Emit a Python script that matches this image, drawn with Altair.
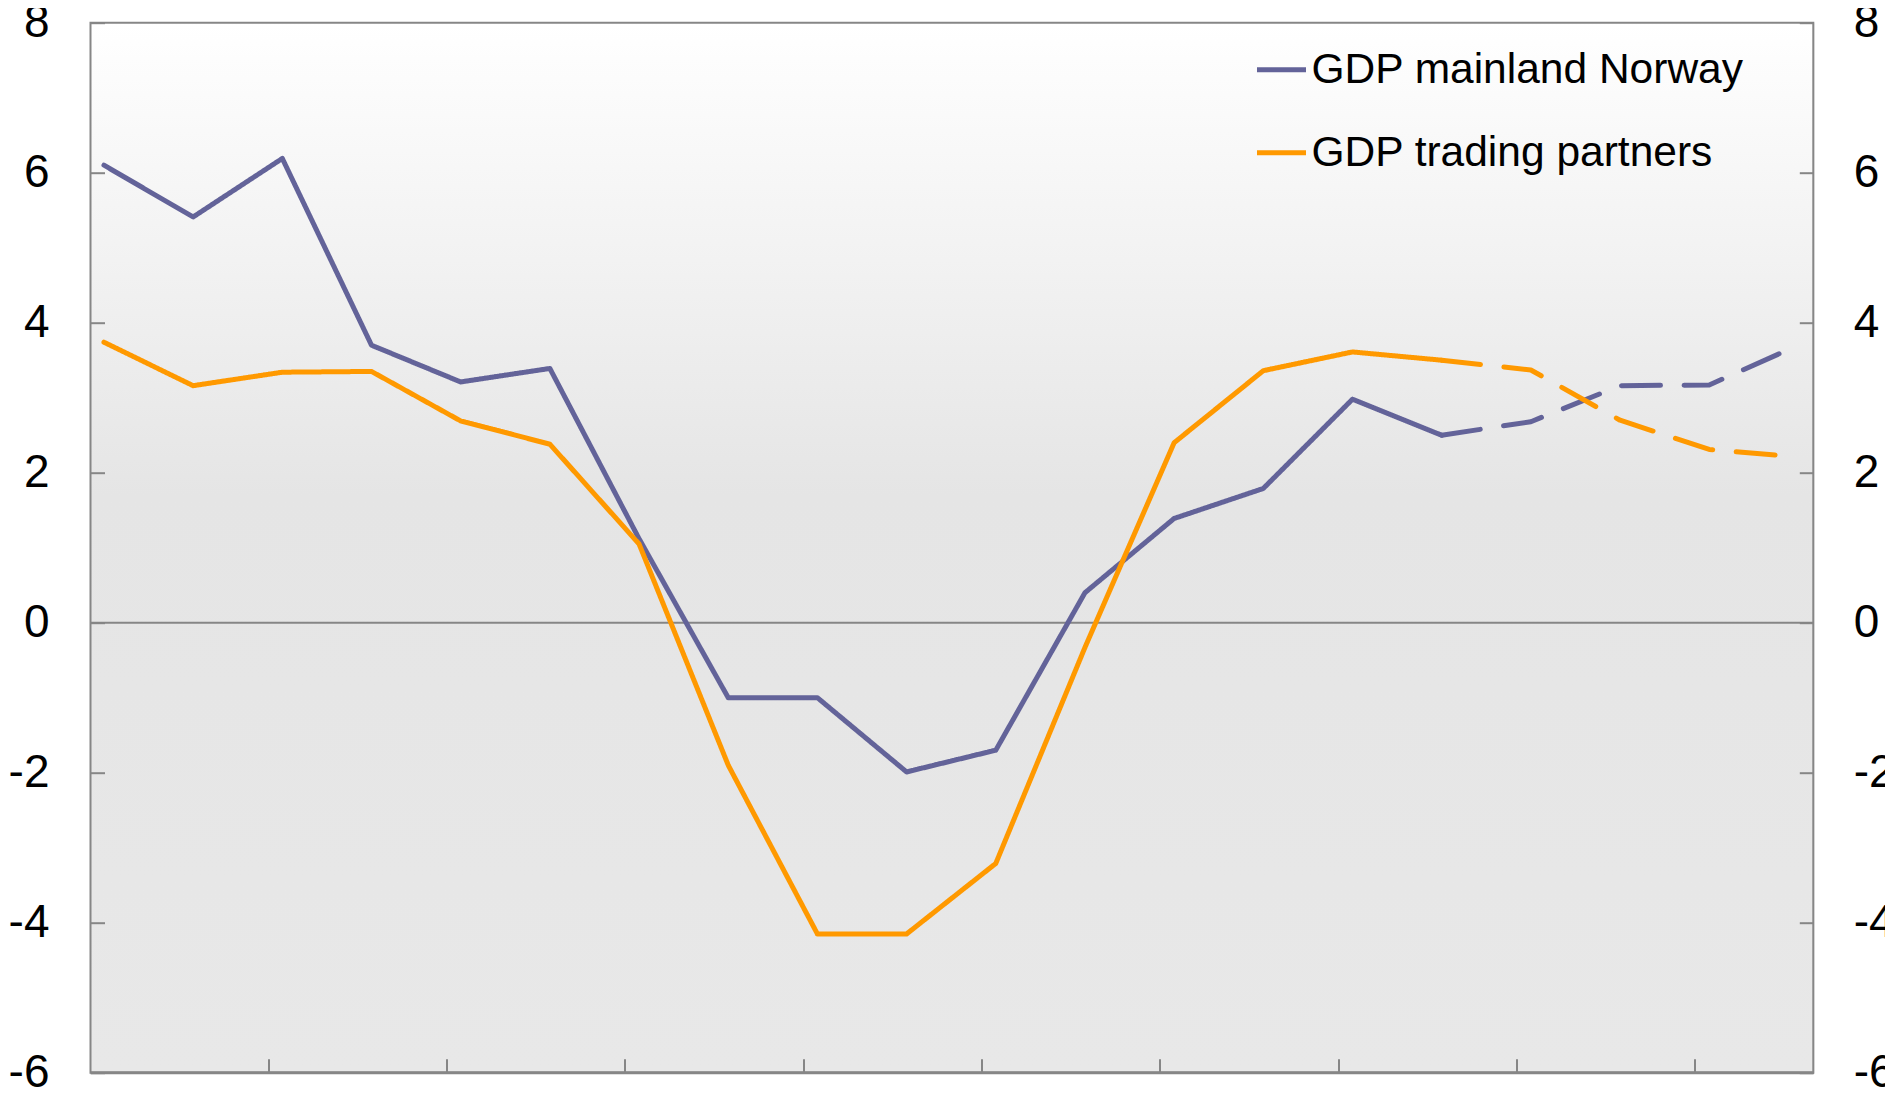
import altair as alt
import pandas as pd

# ---- data ----
periods = list(range(20))
gdp_mainland = [6.10, 5.41, 6.19, 3.70, 3.21, 3.39, 1.12, -1.00, -1.00, -1.99,
                -1.70, 0.40, 1.39, 1.79, 2.98, 2.50, 2.68, 3.16, 3.17, 3.70]
gdp_partners = [3.74, 3.16, 3.34, 3.35, 2.69, 2.38, 1.05, -1.90, -4.15, -4.15,
                -3.21, -0.33, 2.40, 3.36, 3.61, 3.50, 3.37, 2.70, 2.31, 2.21]
last_actual = 15
series_names = ["GDP mainland Norway", "GDP trading partners"]
series_colors = ["#636399", "#ff9900"]
y_ticks = [-6, -4, -2, 0, 2, 4, 6, 8]
x_ticks = [1.84, 3.84, 5.84, 7.84, 9.84, 11.84, 13.84, 15.84, 17.84]

rows = []
for name, vals in zip(series_names, [gdp_mainland, gdp_partners]):
    for p, v in zip(periods, vals):
        if p <= last_actual:
            rows.append({"period": p, "value": v, "series": name, "segment": "actual"})
        if p >= last_actual:
            rows.append({"period": p, "value": v, "series": name, "segment": "projection"})
df = pd.DataFrame(rows)

W, H = 1722.8, 1050
FONT = "Liberation Sans"
GRAY = "#868686"
LABEL_EXPR = "datum.value < 0 ? '-' + format(-datum.value, 'd') : format(datum.value, 'd')"

xscale = alt.Scale(domain=[-0.151, 19.167], nice=False, zero=False)
yscale = alt.Scale(domain=[-6, 8], nice=False, zero=False)
one = pd.DataFrame({"k": [0]})

bg = alt.Chart(one).mark_rect(
    fill=alt.Gradient(
        gradient="linear",
        stops=[alt.GradientStop(color="#ffffff", offset=0),
               alt.GradientStop(color="#e5e5e5", offset=0.45),
               alt.GradientStop(color="#e8e8e8", offset=1)],
        x1=0, x2=0, y1=0, y2=1)
).encode(x=alt.value(0), x2=alt.value(W), y=alt.value(0), y2=alt.value(H))

zero = alt.Chart(one).mark_rule(color=GRAY, strokeWidth=2).encode(y=alt.datum(0))

lines = alt.Chart(df).mark_line(strokeWidth=5, strokeCap="round", strokeJoin="round").encode(
    x=alt.X("period:Q", scale=xscale,
            axis=alt.Axis(values=x_ticks, labels=False, domain=False, grid=False,
                          ticks=True, tickSize=14, tickColor=GRAY, tickWidth=2,
                          offset=-14, title=None, zindex=1)),
    y=alt.Y("value:Q", scale=yscale,
            axis=alt.Axis(values=y_ticks, orient="left", domain=False, grid=False,
                          ticks=True, tickSize=14, tickColor=GRAY, tickWidth=2,
                          offset=-14, labelPadding=41.5, labelFontSize=46,
                          labelFont=FONT, labelColor="black", labelOverlap=False,
                          labelExpr=LABEL_EXPR, title=None, zindex=1)),
    color=alt.Color("series:N",
                    scale=alt.Scale(domain=series_names, range=series_colors),
                    legend=alt.Legend(orient="none", legendX=1164, legendY=20,
                                      title=None, symbolType="stroke",
                                      symbolSize=2401, symbolStrokeWidth=5,
                                      labelFontSize=42.5, labelFont=FONT,
                                      labelColor="black", labelOffset=3,
                                      rowPadding=34, padding=0, labelLimit=1000)),
    strokeDash=alt.StrokeDash("segment:N",
                              scale=alt.Scale(domain=["actual", "projection"],
                                              range=[[1, 0], [39, 23.6]]),
                              legend=None),
    order="period:Q",
)

border = alt.Chart(one).mark_rect(fillOpacity=0, stroke=GRAY, strokeWidth=2).encode(
    x=alt.value(0), x2=alt.value(W), y=alt.value(0), y2=alt.value(H))
bottom = alt.Chart(one).mark_rule(color=GRAY, strokeWidth=3).encode(
    x=alt.value(0), x2=alt.value(W), y=alt.value(H))

inner = alt.layer(bg, zero, lines, border, bottom)

right_axis = alt.Chart(pd.DataFrame({"v": y_ticks})).mark_rule(strokeOpacity=0).encode(
    y=alt.Y("v:Q", scale=yscale,
            axis=alt.Axis(values=y_ticks, orient="right", domain=False, grid=False,
                          ticks=True, tickSize=14, tickColor=GRAY, tickWidth=2,
                          offset=-14, labelPadding=40, labelFontSize=46,
                          labelFont=FONT, labelColor="black", labelOverlap=False,
                          labelExpr=LABEL_EXPR, title=None, zindex=1)))

chart = alt.layer(inner, right_axis).resolve_scale(y="independent").properties(
    width=W, height=H,
    autosize=alt.AutoSizeParams(type="none"),
    padding={"left": 82.5, "top": 14.7, "right": 71.7, "bottom": 15.3},
    background="white",
).configure_view(strokeWidth=0).configure(font=FONT)

chart.save("out.html", embed_options={"renderer": "svg", "actions": False})
